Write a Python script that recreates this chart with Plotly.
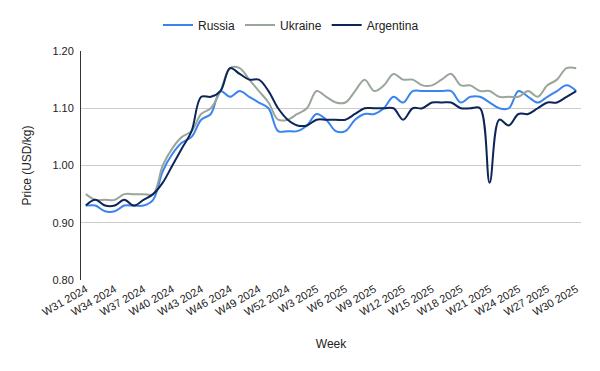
import plotly.graph_objects as go

weeks = [f"W{w} 2024" for w in range(31, 53)] + [f"W{w} 2025" for w in range(1, 31)]

russia = [0.93, 0.93, 0.92, 0.92, 0.93, 0.93, 0.93, 0.94, 0.99, 1.02,
          1.04, 1.05, 1.08, 1.09, 1.13, 1.12, 1.13, 1.12, 1.11, 1.10,
          1.06, 1.06, 1.06, 1.07, 1.09, 1.08, 1.06, 1.06, 1.08, 1.09,
          1.09, 1.10, 1.12, 1.11, 1.13, 1.13, 1.13, 1.13, 1.13, 1.11,
          1.12, 1.12, 1.11, 1.10, 1.10, 1.13, 1.12, 1.11, 1.12, 1.13,
          1.14, 1.13]
ukraine = [0.95, 0.94, 0.94, 0.94, 0.95, 0.95, 0.95, 0.95, 1.00, 1.03,
           1.05, 1.06, 1.09, 1.10, 1.13, 1.17, 1.17, 1.15, 1.13, 1.11,
           1.08, 1.08, 1.09, 1.10, 1.13, 1.12, 1.11, 1.11, 1.13, 1.15,
           1.13, 1.14, 1.16, 1.15, 1.15, 1.14, 1.14, 1.15, 1.16, 1.14,
           1.14, 1.13, 1.13, 1.12, 1.12, 1.12, 1.13, 1.12, 1.14, 1.15,
           1.17, 1.17]
argentina = [0.93, 0.94, 0.93, 0.93, 0.94, 0.93, 0.94, 0.95, 0.97, 1.00,
             1.03, 1.06, 1.12, 1.12, 1.13, 1.17, 1.16, 1.15, 1.15, 1.13,
             1.10, 1.08, 1.07, 1.07, 1.08, 1.08, 1.08, 1.08, 1.09, 1.10,
             1.10, 1.10, 1.10, 1.08, 1.10, 1.10, 1.11, 1.11, 1.11, 1.10,
             1.10, 1.10, 0.97, 1.08, 1.07, 1.09, 1.09, 1.10, 1.11, 1.11,
             1.12, 1.13]

tick_labels = weeks[::3]
y_ticks = [0.80, 0.90, 1.00, 1.10, 1.20]

series = [("Russia", russia, "#3a84f0"),
          ("Ukraine", ukraine, "#9aa69a"),
          ("Argentina", argentina, "#0d2557")]

fig = go.Figure()
for name, vals, color in series:
    fig.add_trace(go.Scatter(
        x=weeks, y=vals, name=name, mode="lines",
        line=dict(color=color, width=2, shape="spline", smoothing=1.0),
    ))

font = "Liberation Sans, Arial, sans-serif"
fig.update_layout(
    width=600, height=371,
    margin=dict(l=73, r=27, t=43, b=99),
    paper_bgcolor="white", plot_bgcolor="white",
    font=dict(family=font, size=11, color="#222222"),
    showlegend=True,
    legend=dict(orientation="h", x=0.42, xanchor="center",
                yref="container", y=1 - 17 / 371, yanchor="middle",
                font=dict(size=12, color="#222222"), itemwidth=30,
                bgcolor="rgba(0,0,0,0)"),
    xaxis=dict(
        type="category", range=[-0.5, len(weeks) - 0.5], automargin=False,
        tickmode="array", tickvals=tick_labels, ticktext=tick_labels,
        tickangle=-30, showgrid=False, showline=False, ticks="",
        tickfont=dict(size=11, color="#222222"),
        title=dict(text="Week", font=dict(size=12, color="#222222"), standoff=22),
    ),
    yaxis=dict(
        range=[0.8, 1.2], tickmode="array", tickvals=y_ticks, automargin=False,
        tickformat=".2f", showgrid=True, gridcolor="#cccccc", gridwidth=1,
        showline=True, linecolor="#333333", linewidth=1, zeroline=False,
        ticks="", tickfont=dict(size=11, color="#222222"), ticklabelstandoff=4,
        title=dict(text="Price (USD/kg)", font=dict(size=12, color="#222222"), standoff=18),
    ),
)

fig.write_html("out.html")
